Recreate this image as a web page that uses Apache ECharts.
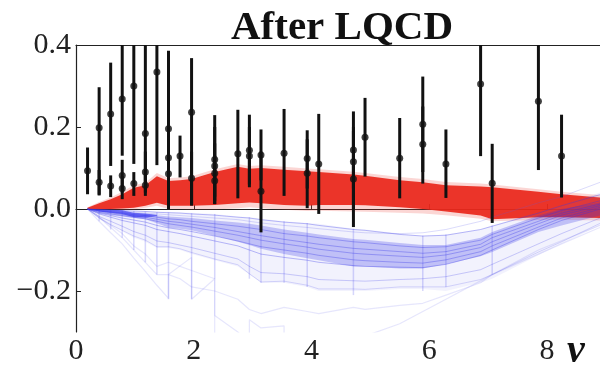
<!DOCTYPE html>
<html><head><meta charset="utf-8">
<script src="https://cdn.jsdelivr.net/npm/echarts@6/dist/echarts.min.js"></script>
<style>html,body{margin:0;padding:0;background:#fff}#c{width:600px;height:366px}</style>
</head><body><div id="c"></div>
<script>
// ---- data ----
const xTicks = [0, 2, 4, 6, 8];
const yTickValues = [-0.2, 0, 0.2, 0.4];
const yTickLabels = ['\u22120.2', '0.0', '0.2', '0.4'];

const ptNu  = [0.196,0.393,0.393,0.589,0.589,0.785,0.785,0.785,0.982,0.982,1.178,1.178,1.178,1.374,1.571,1.571,1.571,1.767,1.963,1.963,2.356,2.356,2.356,2.356,2.749,2.945,2.945,3.142,3.142,3.534,3.927,3.927,4.123,4.712,4.712,4.712,4.909,5.498,5.890,5.890,6.283,6.872,7.069,7.854,8.247];
const ptVal = [0.093,0.198,0.065,0.232,0.056,0.268,0.082,0.05,0.30,0.062,0.184,0.09,0.058,0.334,0.196,0.125,0.086,0.129,0.236,0.075,0.121,0.105,0.087,0.069,0.135,0.143,0.129,0.132,0.043,0.136,0.123,0.087,0.11,0.144,0.115,0.073,0.175,0.124,0.207,0.158,0.11,0.305,0.063,0.263,0.129];
const ptLo  = [0.036,0.033,0.035,0.105,0.029,0.13,0.04,0.024,0.11,0.032,0.06,0.04,0.032,0.107,0.0,0.02,0.0,0.077,0.008,0.01,0.03,0.012,0.02,0.012,0.026,0.06,0.053,0.07,-0.057,0.032,0.05,0.002,-0.012,0.05,0.0,-0.044,0.079,0.026,0.09,0.062,0.027,0.129,-0.034,0.095,0.028];
const ptHi  = [0.15,0.297,0.095,0.357,0.082,0.45,0.12,0.08,0.48,0.09,0.45,0.14,0.085,0.5,0.386,0.23,0.17,0.179,0.368,0.14,0.229,0.2,0.16,0.13,0.242,0.23,0.2,0.194,0.14,0.244,0.192,0.17,0.232,0.238,0.2,0.19,0.271,0.222,0.323,0.25,0.194,0.48,0.159,0.43,0.23];

const nuGrid = [0.196,0.393,0.589,0.785,0.982,1.178,1.374,1.571,1.767,1.963,2.356,2.749,2.945,3.142,3.534,3.927,4.123,4.712,4.909,5.498,5.890,6.283,6.872,7.069,7.854,8.247,8.9];

const redTopOuter = [0.004,0.017,0.028,0.042,0.058,0.064,0.088,0.075,0.077,0.08,0.097,0.11,0.105,0.107,0.103,0.099,0.097,0.091,0.088,0.078,0.073,0.066,0.062,0.06,0.048,0.042,0.034];
const redBotOuter = [-0.001,-0.002,-0.002,-0.002,-0.001,0.003,0.008,0.0,0.0,-0.001,-0.001,0.002,0.004,0.002,-0.002,-0.005,-0.004,-0.006,-0.007,-0.009,-0.011,-0.015,-0.024,-0.03,-0.027,-0.026,-0.028];
const redTopCore  = [0.003,0.014,0.024,0.036,0.052,0.058,0.08,0.068,0.07,0.073,0.09,0.103,0.098,0.1,0.096,0.092,0.09,0.084,0.081,0.07,0.065,0.058,0.055,0.053,0.042,0.036,0.028];
const redBotCore  = [0.0,0.0,0.0,0.001,0.003,0.008,0.015,0.008,0.008,0.008,0.01,0.014,0.016,0.014,0.01,0.008,0.01,0.01,0.009,0.004,0.0,-0.006,-0.016,-0.025,-0.02,-0.02,-0.022];

const blueTop     = [0,0,-0.002,-0.003,-0.004,-0.005,-0.006,-0.007,-0.008,-0.009,-0.012,-0.018,-0.02,-0.024,-0.03,-0.034,-0.036,-0.048,-0.05,-0.06,-0.065,-0.062,-0.05,-0.04,-0.008,0.01,0.04];
const blueBot     = [0,-0.025,-0.04,-0.055,-0.07,-0.08,-0.095,-0.095,-0.1,-0.11,-0.125,-0.14,-0.16,-0.18,-0.18,-0.19,-0.2,-0.2,-0.2,-0.195,-0.195,-0.2,-0.18,-0.17,-0.113,-0.085,-0.04];
const blueCoreTop = [0,-0.002,-0.004,-0.006,-0.01,-0.012,-0.015,-0.018,-0.02,-0.022,-0.028,-0.033,-0.036,-0.04,-0.05,-0.058,-0.062,-0.073,-0.075,-0.083,-0.088,-0.088,-0.07,-0.056,-0.016,0.0,0.016];
const blueCoreBot = [0,-0.01,-0.015,-0.018,-0.022,-0.025,-0.035,-0.045,-0.048,-0.052,-0.065,-0.08,-0.088,-0.097,-0.11,-0.12,-0.125,-0.14,-0.14,-0.145,-0.145,-0.135,-0.115,-0.105,-0.056,-0.04,-0.016];

const blueDarkNu  = [0.196,0.393,0.589,0.785,0.982,1.178,1.374];
const blueDarkTop = [0,-0.001,-0.002,-0.003,-0.009,-0.011,-0.014];
const blueDarkBot = [0,-0.006,-0.009,-0.012,-0.02,-0.021,-0.017];

const spikeNu  = [0.393,0.589,0.785,0.982,1.178,1.374,1.571,1.963,2.356,2.945,3.142,3.534,3.927,4.712,5.890,6.283,7.069];
const spikeTop = [-0.002,-0.003,-0.004,-0.005,-0.006,-0.008,-0.008,-0.01,-0.012,-0.02,-0.024,-0.03,-0.034,-0.048,-0.065,-0.062,-0.04];
const spikeBot = [-0.03,-0.05,-0.07,-0.1,-0.13,-0.16,-0.22,-0.22,-0.17,-0.17,-0.18,-0.18,-0.19,-0.21,-0.2,-0.19,-0.16];

const blueL1 = [0,-0.001,-0.003,-0.004,-0.005,-0.006,-0.008,-0.009,-0.01,-0.012,-0.015,-0.02,-0.022,-0.026,-0.032,-0.036,-0.04,-0.05,-0.052,-0.062,-0.066,-0.064,-0.05,-0.042,-0.01,0.008,0.035];
const blueL2 = [0,-0.004,-0.007,-0.01,-0.014,-0.016,-0.02,-0.024,-0.026,-0.03,-0.036,-0.042,-0.046,-0.05,-0.06,-0.066,-0.07,-0.08,-0.082,-0.09,-0.094,-0.092,-0.076,-0.062,-0.022,-0.004,0.02];
const blueL3 = [0,-0.008,-0.012,-0.016,-0.02,-0.024,-0.03,-0.036,-0.04,-0.044,-0.054,-0.064,-0.07,-0.076,-0.085,-0.093,-0.098,-0.108,-0.11,-0.115,-0.118,-0.112,-0.094,-0.08,-0.036,-0.015,0.008];
const blueL4 = [0,-0.012,-0.02,-0.028,-0.034,-0.04,-0.05,-0.055,-0.06,-0.066,-0.078,-0.09,-0.1,-0.11,-0.118,-0.125,-0.13,-0.138,-0.14,-0.142,-0.143,-0.135,-0.113,-0.1,-0.05,-0.028,0.0];
const blueL5 = [0,-0.018,-0.03,-0.042,-0.055,-0.064,-0.078,-0.082,-0.088,-0.094,-0.108,-0.122,-0.14,-0.155,-0.158,-0.165,-0.172,-0.175,-0.176,-0.172,-0.17,-0.165,-0.148,-0.135,-0.085,-0.06,-0.022];
const blueL6 = [0,-0.022,-0.038,-0.052,-0.066,-0.076,-0.092,-0.092,-0.097,-0.106,-0.122,-0.136,-0.158,-0.178,-0.176,-0.186,-0.195,-0.195,-0.196,-0.19,-0.19,-0.19,-0.172,-0.16,-0.105,-0.08,-0.035];
const blueL7 = [0,-0.005,-0.009,-0.013,-0.017,-0.02,-0.025,-0.03,-0.033,-0.037,-0.045,-0.055,-0.06,-0.065,-0.074,-0.082,-0.086,-0.096,-0.098,-0.104,-0.108,-0.104,-0.086,-0.07,-0.03,-0.01,0.012];
const blueL8 = [0,-0.01,-0.016,-0.022,-0.027,-0.032,-0.04,-0.046,-0.05,-0.055,-0.066,-0.078,-0.085,-0.092,-0.1,-0.108,-0.113,-0.124,-0.126,-0.13,-0.132,-0.124,-0.104,-0.09,-0.044,-0.022,0.004];
const blueL9 = [0,-0.002,-0.004,-0.006,-0.008,-0.01,-0.012,-0.014,-0.016,-0.018,-0.022,-0.026,-0.03,-0.034,-0.04,-0.045,-0.048,-0.056,-0.058,-0.06,-0.058,-0.05,-0.03,-0.02,0.015,0.03,0.065];
const blueO3 = [0,-0.02,-0.045,-0.07,-0.1,-0.13,-0.16,-0.16,-0.17,-0.19,-0.2,-0.22,-0.245,-0.255,-0.24,-0.25,-0.255,-0.24,-0.245,-0.235,-0.23,-0.21,-0.18,-0.16,-0.11,-0.085,-0.045];

const blueO1Nu = [0.196,0.393,0.589,0.785,0.982,1.178,1.374,1.571,1.571,1.963,1.963,2.356,2.356,2.749];
const blueO1   = [0,-0.03,-0.058,-0.085,-0.12,-0.152,-0.186,-0.218,-0.16,-0.118,-0.22,-0.17,-0.31,-0.36];
const blueO2Nu = [0.196,0.393,0.589,0.785,0.982,1.178,1.374,1.571,1.767,1.963,2.356,2.356,2.749,2.945,2.945,3.142,3.534,3.534,3.927,4.712,5.498,6.283,7.069,7.854,8.9];
const blueO2   = [0,-0.02,-0.04,-0.06,-0.09,-0.11,-0.14,-0.13,-0.14,-0.15,-0.17,-0.26,-0.3,-0.33,-0.27,-0.29,-0.285,-0.32,-0.33,-0.32,-0.28,-0.22,-0.16,-0.1,-0.04];

// ---- chart ----
const chart = echarts.init(document.getElementById('c'), null, {renderer: 'canvas'});
const SERIF = '"Liberation Serif", "DejaVu Serif", serif';

function band(xs, hi, lo, color, z) {
  return {
    type: 'custom', z: z, silent: true, clip: true, data: [[0, 0]],
    encode: {x: 0, y: 1},
    renderItem: function (params, api) {
      const pts = [];
      for (let i = 0; i < xs.length; i++) pts.push(api.coord([xs[i], hi[i]]));
      for (let i = xs.length - 1; i >= 0; i--) pts.push(api.coord([xs[i], lo[i]]));
      return {type: 'polygon', shape: {points: pts}, style: {fill: color}};
    }
  };
}
function segs(xs, lo, hi, color, w, z) {
  return {
    type: 'custom', z: z, silent: true, clip: true,
    data: xs.map((n, i) => [n, lo[i], hi[i]]),
    encode: {x: 0, y: [1, 2]},
    renderItem: function (params, api) {
      const a = api.coord([api.value(0), api.value(1)]);
      const b = api.coord([api.value(0), api.value(2)]);
      return {type: 'line', shape: {x1: a[0], y1: a[1], x2: b[0], y2: b[1]},
        style: {stroke: color, lineWidth: w}};
    }
  };
}
function zip(xs, ys) { return xs.map((x, i) => [x, ys[i]]); }
function bline(xs, ys, color, w, z) {
  return {type: 'line', data: zip(xs, ys), showSymbol: false, silent: true, z: z,
    lineStyle: {color: color, width: w}, clip: true};
}

const blueLineCol = 'rgba(50,50,235,0.33)';
const blueFaintCol = 'rgba(90,90,235,0.15)';

const series = [
  band(nuGrid, redTopOuter, redBotOuter, 'rgba(236,70,60,0.22)', 1),
  band(nuGrid, redTopCore, redBotCore, 'rgba(233,40,28,0.93)', 2),
  band(nuGrid, blueTop, blueBot, 'rgba(110,110,238,0.09)', 3),
  band(nuGrid, blueCoreTop, blueCoreBot, 'rgba(45,45,232,0.25)', 4),
  band(blueDarkNu, blueDarkTop, blueDarkBot, 'rgba(25,25,240,0.55)', 4),
  segs(spikeNu, spikeBot, spikeTop, 'rgba(70,70,235,0.22)', 1.5, 5),
  bline(nuGrid, blueL1, blueLineCol, 1, 5),
  bline(nuGrid, blueL2, blueLineCol, 1, 5),
  bline(nuGrid, blueL3, blueLineCol, 1, 5),
  bline(nuGrid, blueL4, blueLineCol, 1, 5),
  bline(nuGrid, blueL5, 'rgba(60,60,235,0.25)', 1, 5),
  bline(nuGrid, blueL6, 'rgba(70,70,235,0.2)', 1, 5),
  bline(nuGrid, blueL7, blueLineCol, 1, 5),
  bline(nuGrid, blueL8, blueLineCol, 1, 5),
  bline(nuGrid, blueL9, 'rgba(90,90,235,0.22)', 1, 5),
  bline(nuGrid, blueO3, blueFaintCol, 1.2, 5),
  bline(blueO1Nu, blueO1, blueFaintCol, 1.2, 5),
  bline(blueO2Nu, blueO2, blueFaintCol, 1.2, 5),
  segs(ptNu, ptLo, ptHi, '#111', 3, 10),
  {
    type: 'scatter', z: 11, silent: true, data: zip(ptNu, ptVal),
    symbolSize: 7, itemStyle: {color: '#111'}
  }
];

chart.setOption({
  animation: false,
  backgroundColor: '#fff',
  grid: {left: 76, right: 0, top: 45, bottom: 32, containLabel: false},
  xAxis: [{
    type: 'value', min: 0, max: 8.9, interval: 2,
    axisLine: {show: true, lineStyle: {color: '#222', width: 1.2}},
    axisTick: {show: true, inside: true, length: 5, customValues: xTicks, lineStyle: {color: '#222'}},
    axisLabel: {customValues: xTicks, fontFamily: SERIF, fontSize: 30, color: '#222', margin: 4},
    splitLine: {show: false}
  }, {
    type: 'value', position: 'top', min: 0, max: 8.9,
    axisLine: {show: true, onZero: false, lineStyle: {color: '#222', width: 1.2}},
    axisTick: {show: false}, axisLabel: {show: false}, splitLine: {show: false}
  }],
  yAxis: {
    type: 'value', min: -0.3, max: 0.4,
    axisLine: {show: true, onZero: false, lineStyle: {color: '#222', width: 1.2}},
    axisTick: {show: true, inside: true, length: 5, customValues: yTickValues, lineStyle: {color: '#222'}},
    axisLabel: {
      customValues: yTickValues, fontFamily: SERIF, fontSize: 30, color: '#222', margin: 5,
      formatter: function (v) {
        let idx = 0, best = 1e9;
        yTickValues.forEach((t, i) => { const d = Math.abs(t - v); if (d < best) { best = d; idx = i; } });
        return yTickLabels[idx];
      }
    },
    splitLine: {show: false}
  },
  graphic: [
    {type: 'text', x: 342, y: 28, silent: true,
      style: {text: 'After LQCD', font: 'bold 41px "Liberation Serif", serif', fill: '#111',
        textAlign: 'center', textVerticalAlign: 'middle'}},
    {type: 'text', x: 576, y: 352, silent: true,
      style: {text: '\u03bd', font: 'italic bold 40px "Liberation Serif", serif', fill: '#111',
        textAlign: 'center', textVerticalAlign: 'middle'}}
  ],
  series: series
});
</script>
</body></html>
